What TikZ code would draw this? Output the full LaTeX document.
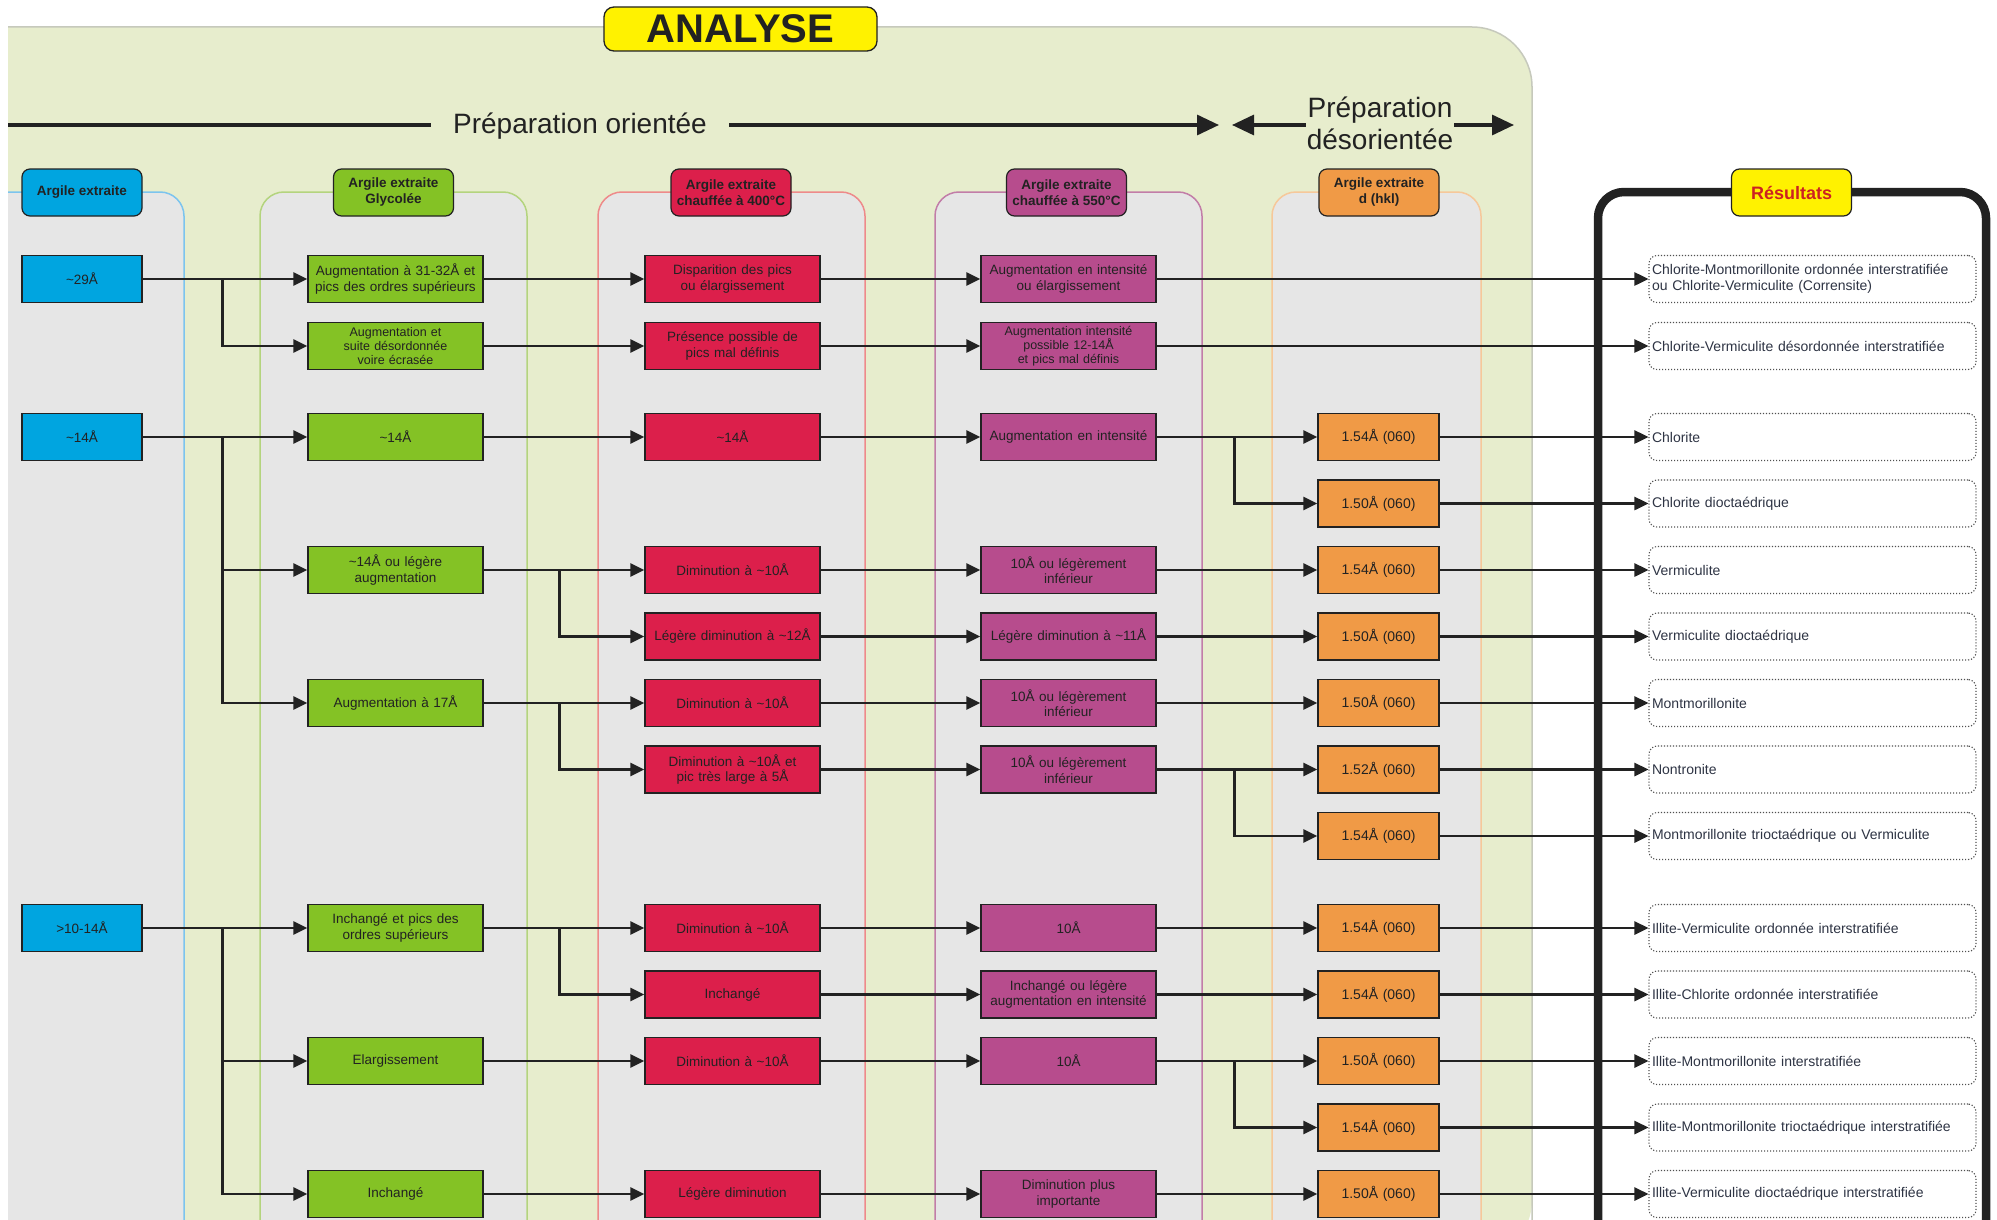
\documentclass[tikz,border=0pt]{standalone}
\usepackage{fontspec}
\setmainfont{Liberation Sans}
\usetikzlibrary{arrows.meta}
\definecolor{bggreen}{HTML}{E7EDCD}
\definecolor{bgline}{HTML}{C6C9BC}
\definecolor{lanegray}{HTML}{E6E6E6}
\definecolor{cblue}{HTML}{00A5E0}
\definecolor{cgreen}{HTML}{84C225}
\definecolor{cred}{HTML}{DC1F4B}
\definecolor{cmag}{HTML}{B74C8D}
\definecolor{corange}{HTML}{F09A46}
\definecolor{cyellow}{HTML}{FFF200}
\definecolor{lblue}{HTML}{7CC4EE}
\definecolor{lgreen}{HTML}{B4D47E}
\definecolor{lred}{HTML}{EE8A8A}
\definecolor{lmag}{HTML}{C27DA8}
\definecolor{lorange}{HTML}{F6C89A}
\definecolor{inkc}{HTML}{222222}
\definecolor{restext}{HTML}{2E3444}
\definecolor{resdot}{HTML}{505050}
\definecolor{resred}{HTML}{CC2222}
\begin{document}
\begin{tikzpicture}[x=1pt,y=-1pt,
  box/.style={draw=inkc, line width=1.3pt, minimum height=47pt, inner xsep=2pt, inner ysep=1pt, align=center, text=inkc, font=\fontsize{13.5}{15.5}\selectfont},
  k1/.style={box, fill=cblue, minimum width=120pt, text width=116pt},
  k2/.style={box, fill=cgreen, minimum width=175pt, text width=171pt},
  k3/.style={box, fill=cred, minimum width=175pt, text width=171pt},
  k4/.style={box, fill=cmag, minimum width=175pt, text width=171pt},
  k5/.style={box, fill=corange, minimum width=121pt, text width=117pt, font=\fontsize{14}{16}\selectfont},
  three/.style={font=\fontsize{12.5}{14}\selectfont},
  res/.style={draw=resdot, dash pattern=on 1.2pt off 1.8pt, line width=1.1pt, rounded corners=8pt, fill=white, minimum width=327pt, minimum height=47pt, text width=321pt, inner xsep=3pt, inner ysep=1pt, align=left, text=restext, font=\fontsize{14}{16}\selectfont},
  hdr/.style={draw=inkc, line width=1.2pt, rounded corners=8pt, minimum width=120pt, minimum height=47pt, inner sep=1pt, align=center, text=inkc, font=\bfseries\fontsize{13.5}{16}\selectfont},
  arr/.style={draw=inkc, line width=2.6pt, -{Triangle[length=14pt,width=13pt]}},
  bigarr/.style={draw=inkc, line width=3.2pt, -{Triangle[length=22pt,width=20pt]}},
  laneb/.style={line width=1.5pt},
]
\useasboundingbox (0,0) rectangle (1997,1220);
\clip (0,0) rectangle (1997,1220);
\fill[white] (0,0) rectangle (1997,1220);

% green background
\fill[bggreen] (8,1260) -- (8,27) -- (1000,27) [rounded corners=60pt] -- (1532,27) -- (1532,1260) -- cycle;
\draw[bgline, line width=1.5pt] (8,27) -- (1000,27) [rounded corners=60pt] -- (1532,27) -- (1532,1260);

% lanes
\fill[lanegray] (8,1260) -- (8,192) -- (100,192) [rounded corners=24pt] -- (184,192) -- (184,1260) -- cycle;
\draw[lblue, laneb] (8,192) -- (100,192) [rounded corners=24pt] -- (184,192) -- (184,1260);
\path[fill=lanegray, draw=lgreen, laneb, rounded corners=24pt] (260,1260) -- (260,192) -- (527,192) -- (527,1260);
\path[fill=lanegray, draw=lred, laneb, rounded corners=24pt] (598,1260) -- (598,192) -- (865,192) -- (865,1260);
\path[fill=lanegray, draw=lmag, laneb, rounded corners=24pt] (935,1260) -- (935,192) -- (1202,192) -- (1202,1260);
\path[fill=lanegray, draw=lorange, laneb, rounded corners=24pt] (1272,1260) -- (1272,192) -- (1481,192) -- (1481,1260);

% headers
\node[hdr, fill=cblue] (h1) at (82,192.5) {Argile extraite};
\node[hdr, fill=cgreen] (h2) at (393.5,192.5) {Argile extraite\\Glycolée};
\node[hdr, fill=cred] (h3) at (731,192.5) {Argile extraite\\chauffée à 400°C};
\node[hdr, fill=cmag] (h4) at (1066.5,192.5) {Argile extraite\\chauffée à 550°C};
\node[hdr, fill=corange] (h5) at (1379,192.5) {Argile extraite\\d (hkl)};

% title
\node[draw=inkc, line width=1.3pt, fill=cyellow, rounded corners=10pt, minimum width=273pt, minimum height=44pt, inner sep=0pt, text=inkc, font=\bfseries\fontsize{40}{44}\selectfont] (title) at (740.5,29) {ANALYSE};

% preparation lines
\coordinate (pl0) at (8,125);
\node[anchor=base, font=\fontsize{28}{32}\selectfont, inner xsep=22pt, inner ysep=0pt, text=inkc] (po) at (580,134) {Préparation orientée};
\draw[inkc, line width=3.2pt] (pl0) -- (pl0 -| po.west);
\coordinate (pa1) at (1219,125);
\draw[bigarr] (pa1 -| po.east) -- (pa1);
\node[align=center, font=\fontsize{28}{32}\selectfont, inner sep=1pt, text=inkc] (pd) at (1380,123) {Préparation\\désorientée};
\coordinate (pa2) at (1232,125);
\coordinate (pa3) at (1514,125);
\draw[bigarr] (pa2 -| pd.west) -- (pa2);
\draw[bigarr] (pa3 -| pd.east) -- (pa3);

% results frame
\draw[inkc, line width=8.5pt, rounded corners=26pt] (1598,1300) -- (1598,192) -- (1986,192) -- (1986,1300);
\node[hdr, fill=cyellow, text=resred, font=\bfseries\fontsize{18}{20}\selectfont] (hr) at (1791.5,192.5) {Résultats};

% column 1
\node[k1] (n1A) at (82,279) {\textasciitilde29Å};
\node[k1] (n1C) at (82,437) {\textasciitilde14Å};
\node[k1] (n1I) at (82,928) {>10-14Å};

% column 2
\node[k2] (n2A) at (395.5,279) {Augmentation à 31-32Å et\\pics des ordres supérieurs};
\node[k2, three] (n2B) at (395.5,346) {Augmentation et\\suite désordonnée\\voire écrasée};
\node[k2] (n2C) at (395.5,437) {\textasciitilde14Å};
\node[k2] (n2D) at (395.5,570) {\textasciitilde14Å ou légère\\augmentation};
\node[k2] (n2F) at (395.5,703) {Augmentation à 17Å};
\node[k2] (n2I) at (395.5,928) {Inchangé et pics des\\ordres supérieurs};
\node[k2] (n2K) at (395.5,1061) {Elargissement};
\node[k2] (n2M) at (395.5,1194) {Inchangé};

% column 3
\node[k3] (n3A) at (732.5,279) {Disparition des pics\\ou élargissement};
\node[k3] (n3B) at (732.5,346) {Présence possible de\\pics mal définis};
\node[k3] (n3C) at (732.5,437) {\textasciitilde14Å};
\node[k3] (n3D) at (732.5,570) {Diminution à \textasciitilde10Å};
\node[k3] (n3E) at (732.5,636.5) {Légère diminution à \textasciitilde12Å};
\node[k3] (n3F) at (732.5,703) {Diminution à \textasciitilde10Å};
\node[k3] (n3G) at (732.5,769.5) {Diminution à \textasciitilde10Å et\\pic très large à 5Å};
\node[k3] (n3I) at (732.5,928) {Diminution à \textasciitilde10Å};
\node[k3] (n3J) at (732.5,994.5) {Inchangé};
\node[k3] (n3K) at (732.5,1061) {Diminution à \textasciitilde10Å};
\node[k3] (n3M) at (732.5,1194) {Légère diminution};

% column 4
\node[k4] (n4A) at (1068.5,279) {Augmentation en intensité\\ou élargissement};
\node[k4, three] (n4B) at (1068.5,346) {Augmentation intensité\\possible 12-14Å\\et pics mal définis};
\node[k4] (n4C) at (1068.5,437) {Augmentation en intensité};
\node[k4] (n4D) at (1068.5,570) {10Å ou légèrement\\inférieur};
\node[k4] (n4E) at (1068.5,636.5) {Légère diminution à \textasciitilde11Å};
\node[k4] (n4F) at (1068.5,703) {10Å ou légèrement\\inférieur};
\node[k4] (n4G) at (1068.5,769.5) {10Å ou légèrement\\inférieur};
\node[k4] (n4I) at (1068.5,928) {10Å};
\node[k4] (n4J) at (1068.5,994.5) {Inchangé ou légère\\augmentation en intensité};
\node[k4] (n4K) at (1068.5,1061) {10Å};
\node[k4] (n4M) at (1068.5,1194) {Diminution plus\\importante};

% column 5
\node[k5] (n5C) at (1378.5,437) {1.54Å (060)};
\node[k5] (n5Cb) at (1378.5,503.5) {1.50Å (060)};
\node[k5] (n5D) at (1378.5,570) {1.54Å (060)};
\node[k5] (n5E) at (1378.5,636.5) {1.50Å (060)};
\node[k5] (n5F) at (1378.5,703) {1.50Å (060)};
\node[k5] (n5G) at (1378.5,769.5) {1.52Å (060)};
\node[k5] (n5H) at (1378.5,836) {1.54Å (060)};
\node[k5] (n5I) at (1378.5,928) {1.54Å (060)};
\node[k5] (n5J) at (1378.5,994.5) {1.54Å (060)};
\node[k5] (n5K) at (1378.5,1061) {1.50Å (060)};
\node[k5] (n5L) at (1378.5,1127.5) {1.54Å (060)};
\node[k5] (n5M) at (1378.5,1194) {1.50Å (060)};

% results
\node[res] (rA) at (1812.5,279) {Chlorite-Montmorillonite ordonnée interstratifiée\\ou Chlorite-Vermiculite (Corrensite)};
\node[res] (rB) at (1812.5,346) {Chlorite-Vermiculite désordonnée interstratifiée};
\node[res] (rC) at (1812.5,437) {Chlorite};
\node[res] (rCb) at (1812.5,503.5) {Chlorite dioctaédrique};
\node[res] (rD) at (1812.5,570) {Vermiculite};
\node[res] (rE) at (1812.5,636.5) {Vermiculite dioctaédrique};
\node[res] (rF) at (1812.5,703) {Montmorillonite};
\node[res] (rG) at (1812.5,769.5) {Nontronite};
\node[res] (rH) at (1812.5,836) {Montmorillonite trioctaédrique ou Vermiculite};
\node[res] (rI) at (1812.5,928) {Illite-Vermiculite ordonnée interstratifiée};
\node[res] (rJ) at (1812.5,994.5) {Illite-Chlorite ordonnée interstratifiée};
\node[res] (rK) at (1812.5,1061) {Illite-Montmorillonite interstratifiée};
\node[res] (rL) at (1812.5,1127.5) {Illite-Montmorillonite trioctaédrique interstratifiée};
\node[res] (rM) at (1812.5,1194) {Illite-Vermiculite dioctaédrique interstratifiée};

% connectors column 1 -> 2
\draw[arr] (n1A) -- (n2A);
\draw[arr] (n1A.east) -- ++(80,0) |- (n2B.west);
\draw[arr] (n1C) -- (n2C);
\draw[arr] (n1C.east) -- ++(80,0) |- (n2D.west);
\draw[arr] (n1C.east) -- ++(80,0) |- (n2F.west);
\draw[arr] (n1I) -- (n2I);
\draw[arr] (n1I.east) -- ++(80,0) |- (n2K.west);
\draw[arr] (n1I.east) -- ++(80,0) |- (n2M.west);

% column 2 -> 3
\foreach \r in {A,B,C,D,F,I,K,M} \draw[arr] (n2\r) -- (n3\r);
\draw[arr] (n2D.east) -- ++(76,0) |- (n3E.west);
\draw[arr] (n2F.east) -- ++(76,0) |- (n3G.west);
\draw[arr] (n2I.east) -- ++(76,0) |- (n3J.west);

% column 3 -> 4
\foreach \r in {A,B,C,D,E,F,G,I,J,K,M} \draw[arr] (n3\r) -- (n4\r);

% column 4 -> 5 / results
\draw[arr] (n4A) -- (rA);
\draw[arr] (n4B) -- (rB);
\foreach \r in {C,D,E,F,G,I,J,K,M} \draw[arr] (n4\r) -- (n5\r);
\draw[arr] (n4C.east) -- ++(78,0) |- (n5Cb.west);
\draw[arr] (n4G.east) -- ++(78,0) |- (n5H.west);
\draw[arr] (n4K.east) -- ++(78,0) |- (n5L.west);

% column 5 -> results
\foreach \r in {C,Cb,D,E,F,G,H,I,J,K,L,M} \draw[arr] (n5\r) -- (r\r);
\end{tikzpicture}
\end{document}
